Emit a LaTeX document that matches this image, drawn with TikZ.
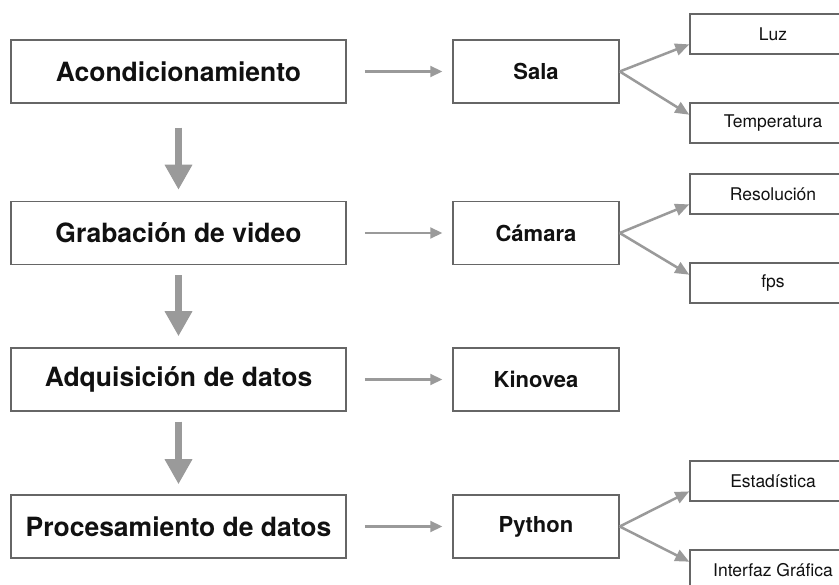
\documentclass[tikz,border=0pt]{standalone}
\usepackage{fontspec}
\setmainfont{TeX Gyre Heros}
\usetikzlibrary{arrows.meta,calc}
\definecolor{boxline}{HTML}{666666}
\definecolor{arrowgray}{HTML}{9A9A9A}
\definecolor{txt}{HTML}{111111}
\tikzset{
  mainbox/.style={draw=boxline, line width=1.5pt, fill=white, minimum width=335pt, minimum height=63pt, inner sep=0pt, text=txt, font=\fontsize{26.5}{28}\selectfont\bfseries},
  midbox/.style={draw=boxline, line width=1.5pt, fill=white, minimum width=166pt, minimum height=63pt, inner sep=0pt, text=txt, font=\fontsize{22}{24}\selectfont\bfseries},
  leafbox/.style={draw=boxline, line width=1.5pt, fill=white, minimum width=166pt, minimum height=40pt, inner sep=0pt, text=txt, font=\fontsize{17.5}{19}\selectfont},
  downarrow/.style={draw=arrowgray, line width=7pt, -{Triangle[width=26pt,length=25pt]}},
  harrow/.style={draw=arrowgray, line width=2.2pt, -{Triangle[width=11pt,length=12pt]}, shorten <=18pt, shorten >=10pt},
  fanarrow/.style={draw=arrowgray, line width=2.5pt, -{Triangle[width=12pt,length=14pt]}}
}
\begin{document}
\begin{tikzpicture}[x=1pt,y=-1pt]
\useasboundingbox (0,0) rectangle (839,585);
\fill[white] (0,0) rectangle (839,585);
\clip (0,0) rectangle (839,585);
% left column
\node[mainbox] (acond) at (178.5,71.5) {Acondicionamiento};
\node[mainbox] (grab) at (178.5,233) {Grabación de video};
\node[mainbox] (adq) at (178.5,379.5) {Adquisición de datos};
\node[mainbox] (proc) at (178.5,526.5) {Procesamiento de datos};
% middle column
\node[midbox] (sala) at (536,71.5) {Sala};
\node[midbox] (cam) at (536,233) {Cámara};
\node[midbox] (kin) at (536,379.5) {Kinovea};
\node[midbox] (py) at (536,526.5) {Python};
% right column
\node[leafbox] (luz) at (773,34) {Luz};
\node[leafbox] (temp) at (773,123) {Temperatura};
\node[leafbox] (res) at (773,194) {Resolución};
\node[leafbox] (fps) at (773,283) {fps};
\node[leafbox] (est) at (773,481) {Estadística};
\node[leafbox] (gui) at (773,570) {Interfaz Gráfica};
% vertical arrows
\draw[downarrow, shorten <=24pt, shorten >=11pt] (acond.south) -- (grab.north);
\draw[downarrow, shorten <=10pt, shorten >=11pt] (grab.south) -- (adq.north);
\draw[downarrow, shorten <=10pt, shorten >=10pt] (adq.south) -- (proc.north);
% horizontal arrows
\draw[harrow] (acond.east) -- (sala.west);
\draw[harrow] (grab.east) -- (cam.west);
\draw[harrow] (adq.east) -- (kin.west);
\draw[harrow] (proc.east) -- (py.west);
% fan arrows
\coordinate (luzin) at ($(luz.south west)!0.25!(luz.north west)$);
\coordinate (tempin) at ($(temp.north west)!0.3!(temp.south west)$);
\coordinate (resin) at ($(res.south west)!0.25!(res.north west)$);
\coordinate (fpsin) at ($(fps.north west)!0.3!(fps.south west)$);
\coordinate (estin) at ($(est.south west)!0.25!(est.north west)$);
\coordinate (guiin) at ($(gui.north west)!0.3!(gui.south west)$);
\draw[fanarrow] (sala.east) -- (luzin);
\draw[fanarrow] (sala.east) -- (tempin);
\draw[fanarrow] (cam.east) -- (resin);
\draw[fanarrow] (cam.east) -- (fpsin);
\draw[fanarrow] (py.east) -- (estin);
\draw[fanarrow] (py.east) -- (guiin);
\end{tikzpicture}
\end{document}
